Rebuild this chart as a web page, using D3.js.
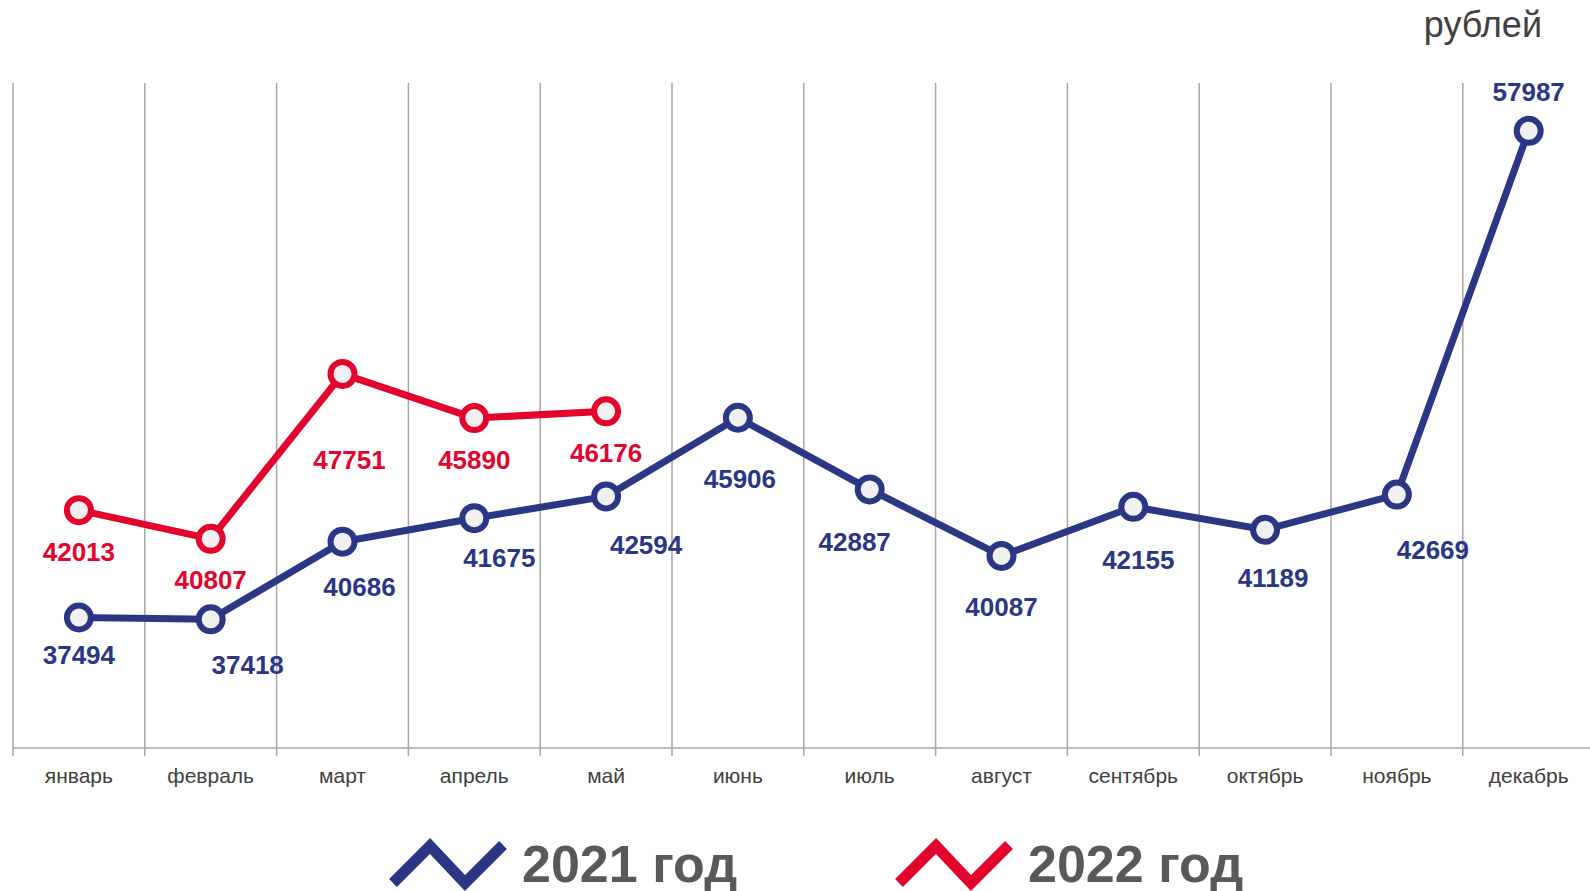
<!DOCTYPE html>
<html>
<head>
<meta charset="utf-8">
<script src="https://cdn.jsdelivr.net/npm/d3@7"></script>
<style>
  body { margin: 0; background: #fff; }
  text { font-family: "Liberation Sans", Arial, sans-serif; }
</style>
</head>
<body>
<svg id="chart"></svg>
<script>
// monthly values, rubles
const months = ["январь", "февраль", "март", "апрель", "май", "июнь",
                "июль", "август", "сентябрь", "октябрь", "ноябрь", "декабрь"];
const values2021 = [37494, 37418, 40686, 41675, 42594, 45906, 42887, 40087, 42155, 41189, 42669, 57987];
const values2022 = [42013, 40807, 47751, 45890, 46176];
const seriesNames = ["2021 год", "2022 год"];
const unitLabel = "рублей";

// label nudges (px) so the numbers don't sit on the lines
const shift2021 = [[0,37],[37,46],[17,45],[25,40],[40,49],[2,61],[-15,52],[0,51],[5,53],[8,48],[36,55],[0,-39]];
const shift2022 = [[0,42],[0,41],[7,86],[0,42],[0,42]];

const W = 1590, H = 891;
const blue = "#2b3784", red = "#e3032d";

const svg = d3.select("#chart").attr("width", W).attr("height", H);

const x = d3.scaleBand()
    .domain(months)
    .range([13, 13 + 12 * 131.8]);

const y = d3.scaleLinear()
    .domain([32000, 60000])
    .range([748, 83]);

// vertical grid
svg.append("g")
    .selectAll("line")
    .data(months)
    .enter()
    .append("line")
    .attr("x1", d => x(d))
    .attr("x2", d => x(d))
    .attr("y1", 83)
    .attr("y2", 756)
    .attr("stroke", "#a6a6a6")
    .attr("stroke-width", 1.5);

// bottom axis
const axis = svg.append("g")
    .attr("transform", "translate(0,748)")
    .call(d3.axisBottom(x).tickSize(0).tickSizeOuter(0));
axis.select(".domain").remove();
axis.append("line")
    .attr("x1", 13).attr("x2", W)
    .attr("stroke", "#a6a6a6").attr("stroke-width", 1.5);
axis.selectAll("text")
    .attr("y", 35)
    .attr("dy", 0)
    .style("font-family", "Liberation Sans, Arial, sans-serif")
    .style("font-size", "21px")
    .attr("fill", "#404040");

svg.append("text")
    .attr("x", 1542)
    .attr("y", 37)
    .attr("text-anchor", "end")
    .style("font-size", "36px")
    .attr("fill", "#404040")
    .text(unitLabel);

const cx = (d, i) => x(months[i]) + x.bandwidth() / 2;

function drawSeries(vals, color, shifts) {
    const g = svg.append("g");
    g.append("path")
        .datum(vals)
        .attr("fill", "none")
        .attr("stroke", color)
        .attr("stroke-width", 7)
        .attr("stroke-linejoin", "round")
        .attr("d", d3.line().x(cx).y(d => y(d)));

    g.selectAll("circle")
        .data(vals)
        .enter()
        .append("circle")
        .attr("cx", cx)
        .attr("cy", d => y(d))
        .attr("r", 12)
        .attr("fill", "#f0f0f0")
        .attr("stroke", color)
        .attr("stroke-width", 6);

    g.selectAll("text")
        .data(vals)
        .enter()
        .append("text")
        .attr("x", (d, i) => cx(d, i) + shifts[i][0])
        .attr("y", (d, i) => y(d) + shifts[i][1])
        .attr("dy", "0.35em")
        .attr("text-anchor", "middle")
        .style("font-size", "26px")
        .style("font-weight", "bold")
        .attr("fill", color)
        .text(d => d);
}

drawSeries(values2021, blue, shift2021);
drawSeries(values2022, red, shift2022);

// legend
const legendItems = [
    {name: seriesNames[0], color: blue, x0: 393},
    {name: seriesNames[1], color: red, x0: 899}
];
legendItems.forEach(it => {
    const zig = [[0, 42], [37, 5], [72, 42], [110, 4]];
    svg.append("path")
        .attr("d", d3.line()(zig.map(p => [it.x0 + p[0], 841 + p[1]])))
        .attr("fill", "none")
        .attr("stroke", it.color)
        .attr("stroke-width", 11);
    svg.append("text")
        .attr("x", it.x0 + 129)
        .attr("y", 882)
        .style("font-size", "52px")
        .style("font-weight", "bold")
        .attr("fill", "#595959")
        .text(it.name);
});
</script>
</body>
</html>
